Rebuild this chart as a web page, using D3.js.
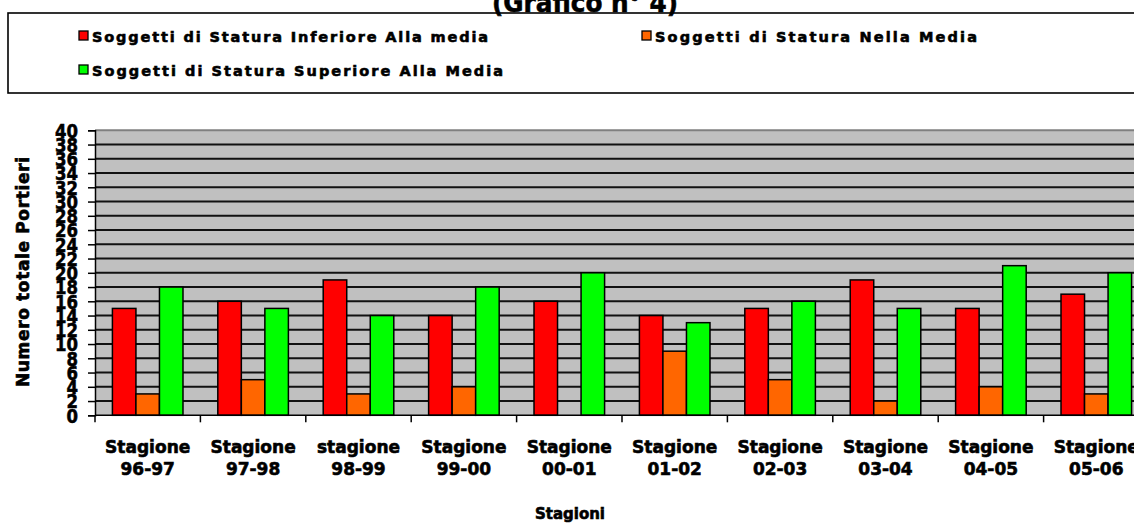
<!DOCTYPE html>
<html>
<head>
<meta charset="utf-8">
<script src="https://cdn.jsdelivr.net/npm/d3@7"></script>
<style>
  html, body { margin: 0; padding: 0; background: #fff; overflow: hidden; }
  svg { display: block; }
  text { font-family: "DejaVu Sans", "Liberation Sans", Arial, sans-serif; font-weight: bold; fill: #000;
         stroke: #000; stroke-width: 0.6px; paint-order: stroke; }
</style>
</head>
<body>
<svg id="chart" width="1134" height="523"></svg>
<script>
// Seasons (two-line axis labels)
const categories = ["Stagione 96-97", "Stagione 97-98", "stagione 98-99", "Stagione 99-00", "Stagione 00-01",
                    "Stagione 01-02", "Stagione 02-03", "Stagione 03-04", "Stagione 04-05", "Stagione 05-06"];
// Number of goalkeepers per stature group
const seriesNames = ["Soggetti di Statura Inferiore Alla media",
                     "Soggetti di Statura Nella Media",
                     "Soggetti di Statura Superiore Alla Media"];
const inferiore  = [15, 16, 19, 14, 16, 14, 15, 19, 15, 17];
const nellaMedia = [3, 5, 3, 4, 0, 9, 5, 2, 4, 3];
const superiore  = [18, 15, 14, 18, 20, 13, 16, 15, 21, 20];
const seriesColors = ["#FF0000", "#FF6600", "#00FF00"];
const yTickValues = [0, 2, 4, 6, 8, 10, 12, 14, 16, 18, 20, 22, 24, 26, 28, 30, 32, 34, 36, 38, 40];

const title = "(Grafico n° 4)";
const yTitle = "Numero totale Portieri";
const xTitle = "Stagioni";

const seriesValues = [inferiore, nellaMedia, superiore];

const svg = d3.select("#chart");

const plot = { left: 95, right: 1149, top: 130.3, bottom: 415.3 };

const x = d3.scaleBand().domain(categories).range([plot.left, plot.right]).padding(0);
const xs = d3.scaleBand().domain(d3.range(seriesNames.length)).range([0, x.bandwidth()])
  .paddingInner(0).paddingOuter(0.74);
const y = d3.scaleLinear().domain([0, 40]).range([plot.bottom, plot.top]);

// Legend frame
svg.append("rect")
  .attr("x", 8).attr("y", 13).attr("width", 1140).attr("height", 80)
  .attr("fill", "#fff").attr("stroke", "#000").attr("stroke-width", 1.6);

// Title (sits above the legend frame)
svg.append("text")
  .attr("x", 585).attr("y", 12)
  .attr("text-anchor", "middle")
  .attr("textLength", 186).attr("lengthAdjust", "spacingAndGlyphs")
  .style("font-size", "27px")
  .text(title);

// Legend entries
const legendItems = [
  { i: 0, sx: 79, ty: 42, tw: 396 },
  { i: 1, sx: 642, ty: 42, tw: 322 },
  { i: 2, sx: 79, ty: 76, tw: 411 }
];
const lg = svg.append("g");
legendItems.forEach(d => {
  lg.append("rect")
    .attr("x", d.sx).attr("y", d.ty - 11).attr("width", 9).attr("height", 9)
    .attr("fill", seriesColors[d.i]).attr("stroke", "#000").attr("stroke-width", 1.3);
  lg.append("text")
    .attr("x", d.sx + 13).attr("y", d.ty)
    .attr("textLength", d.tw).attr("lengthAdjust", "spacing")
    .style("font-size", "14.5px")
    .text(seriesNames[d.i]);
});

// Plot background
svg.append("rect")
  .attr("x", plot.left).attr("y", plot.top)
  .attr("width", plot.right - plot.left).attr("height", plot.bottom - plot.top)
  .attr("fill", "#C0C0C0");

// Top border of the plot area
svg.append("line")
  .attr("x1", plot.left).attr("x2", plot.right)
  .attr("y1", y(40)).attr("y2", y(40))
  .attr("stroke", "#808080").attr("stroke-width", 2);

// Gridlines
svg.append("g")
  .selectAll("line")
  .data(yTickValues.filter(v => v > 0 && v < 40))
  .join("line")
  .attr("x1", plot.left).attr("x2", plot.right)
  .attr("y1", d => y(d)).attr("y2", d => y(d))
  .attr("stroke", "#111").attr("stroke-width", 2);

// Bars
const groups = svg.append("g")
  .selectAll("g")
  .data(categories)
  .join("g")
  .attr("transform", d => `translate(${x(d)},0)`);

groups.selectAll("rect")
  .data((c, ci) => seriesValues.map((vals, si) => ({ si, v: vals[ci] })).filter(d => d.v > 0))
  .join("rect")
  .attr("x", d => xs(d.si))
  .attr("width", xs.bandwidth())
  .attr("y", d => y(d.v))
  .attr("height", d => y(0) - y(d.v))
  .attr("fill", d => seriesColors[d.si])
  .attr("stroke", "#000").attr("stroke-width", 1.5);

// Y axis: tall, narrow digits
const yAxis = d3.axisLeft(y).tickValues(yTickValues).tickSize(7).tickPadding(10);
const yg = svg.append("g")
  .attr("transform", `translate(${plot.left},0)`)
  .call(yAxis);
yg.attr("font-family", null).attr("font-size", null);
yg.select(".domain").attr("stroke", "#000").attr("stroke-width", 1.5);
yg.selectAll(".tick line").attr("stroke", "#000").attr("stroke-width", 1.5);
yg.selectAll(".tick text")
  .style("font-size", "20px")
  .attr("dy", "0.34em")
  .attr("textLength", d => String(d).length * 11.5)
  .attr("lengthAdjust", "spacingAndGlyphs")
  .attr("fill", "#000");

// X axis baseline and category ticks
svg.append("line")
  .attr("x1", plot.left).attr("x2", plot.right)
  .attr("y1", y(0)).attr("y2", y(0))
  .attr("stroke", "#000").attr("stroke-width", 1.5);
svg.append("g")
  .selectAll("line")
  .data(categories)
  .join("line")
  .attr("x1", d => x(d)).attr("x2", d => x(d))
  .attr("y1", y(0)).attr("y2", y(0) + 7)
  .attr("stroke", "#000").attr("stroke-width", 1.5);

// X tick labels on two lines
const xl = svg.append("g")
  .selectAll("text")
  .data(categories)
  .join("text")
  .attr("text-anchor", "middle")
  .style("font-size", "17px");
xl.append("tspan")
  .attr("x", d => x(d) + x.bandwidth() / 2).attr("y", 453)
  .text(d => d.split(" ")[0]);
xl.append("tspan")
  .attr("x", d => x(d) + x.bandwidth() / 2).attr("y", 475)
  .text(d => d.split(" ")[1]);

// Axis titles
svg.append("text")
  .attr("x", 570).attr("y", 519)
  .attr("text-anchor", "middle")
  .style("font-size", "15px")
  .attr("textLength", 70).attr("lengthAdjust", "spacing")
  .text(xTitle);

svg.append("text")
  .attr("transform", "translate(29,272) rotate(-90)")
  .attr("text-anchor", "middle")
  .style("font-size", "17px")
  .attr("textLength", 230).attr("lengthAdjust", "spacing")
  .text(yTitle);
</script>
</body>
</html>
